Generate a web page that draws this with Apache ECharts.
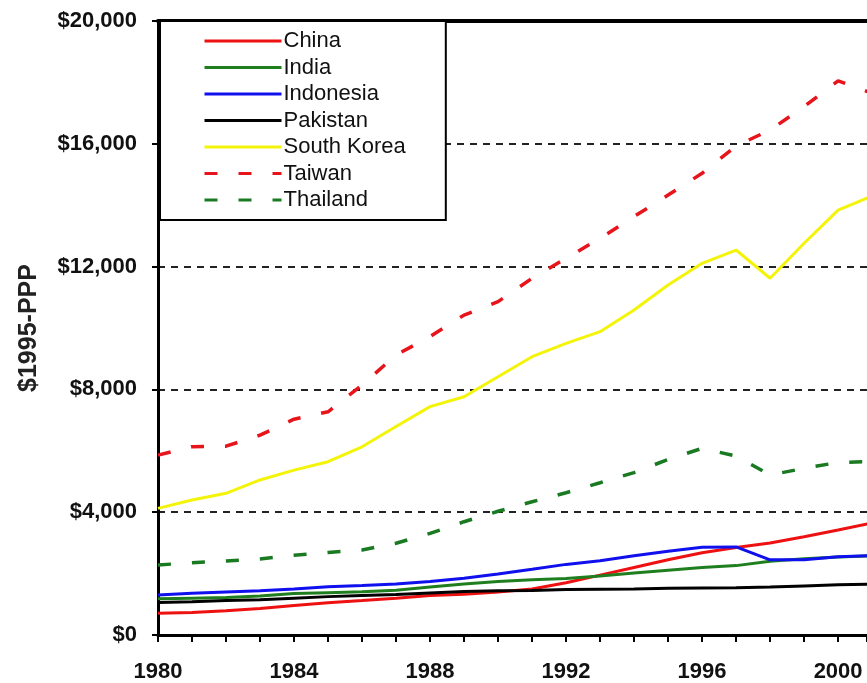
<!DOCTYPE html>
<html>
<head>
<meta charset="utf-8">
<script src="https://cdn.jsdelivr.net/npm/echarts@6/dist/echarts.min.js"></script>
<style>
html,body{margin:0;padding:0;background:#fff;}
#chart{width:867px;height:683px;}
</style>
</head>
<body>
<div id="chart"></div>
<script>
const years = [1980,1981,1982,1983,1984,1985,1986,1987,1988,1989,1990,1991,1992,1993,1994,1995,1996,1997,1998,1999,2000,2001];
const china      = [706,730,790,860,960,1050,1120,1200,1290,1330,1400,1500,1700,1950,2200,2450,2680,2850,3000,3200,3420,3650];
const india      = [1180,1200,1220,1270,1350,1380,1410,1460,1560,1660,1740,1800,1840,1920,2020,2110,2200,2260,2400,2480,2540,2580];
const indonesia  = [1300,1360,1400,1440,1500,1570,1610,1660,1740,1850,1990,2140,2300,2420,2580,2730,2860,2870,2450,2450,2550,2590];
const pakistan   = [1060,1080,1120,1150,1200,1250,1290,1320,1370,1420,1440,1450,1480,1490,1500,1520,1530,1540,1560,1600,1640,1660];
const southKorea = [4126,4400,4615,5050,5370,5645,6130,6790,7440,7760,8410,9065,9500,9880,10585,11400,12106,12540,11620,12760,13840,14300];
const taiwan     = [5860,6130,6150,6510,7030,7270,8140,9120,9720,10420,10860,11620,12270,12920,13630,14330,15040,15930,16450,17210,18050,17650];
const thailand   = [2280,2355,2410,2475,2600,2690,2770,2990,3310,3690,4030,4340,4635,4960,5290,5720,6080,5830,5210,5430,5620,5650];
const seriesNames = ['China','India','Indonesia','Pakistan','South Korea','Taiwan','Thailand'];
const yTicks = [0,4000,8000,12000,16000,20000];
const xRange = [1980, 2000.85];

const FONT = 'Liberation Sans, Arial, sans-serif';
function pts(vals){ return years.map((y,i)=>[y, vals[i]]); }
function solid(name, vals, color){
  return {name, type:'line', data:pts(vals), symbol:'none', smooth:false, clip:true,
    lineStyle:{color, width:3}, itemStyle:{color}, z:3};
}
function dashed(name, vals, color){
  return {name, type:'line', data:pts(vals), symbol:'none', smooth:false, clip:true,
    lineStyle:{color, width:3.5, type:[13,21]}, itemStyle:{color}, z:3};
}

const chart = echarts.init(document.getElementById('chart'), null, {renderer:'canvas'});
chart.setOption({
  animation:false,
  backgroundColor:'#fff',
  grid:{left:158, top:21, right:0, height:614, containLabel:false},
  legend:{
    orient:'vertical', left:160, top:21,
    padding:[9,40,9,43],
    itemWidth:77, itemHeight:10, itemGap:4.5,
    backgroundColor:'#fff', borderColor:'#000', borderWidth:2,
    itemStyle:{opacity:0},
    lineStyle:{width:3},
    textStyle:{fontFamily:FONT, fontSize:22, color:'#111', padding:[0,0,0,-3]},
    data:seriesNames
  },
  xAxis:[{
    type:'value', min:xRange[0], max:xRange[1], interval:4,
    axisLine:{show:true, onZero:false, lineStyle:{color:'#000', width:3}},
    axisTick:{show:true, inside:false, length:7, lineStyle:{color:'#000', width:2}},
    minorTick:{show:true, splitNumber:4, length:7, lineStyle:{color:'#000', width:2}},
    axisLabel:{fontFamily:FONT, fontWeight:'bold', fontSize:22, color:'#111', margin:26,
      formatter:v=>String(v), showMaxLabel:false},
    splitLine:{show:false}
  },{
    type:'value', position:'top', min:xRange[0], max:xRange[1], interval:4,
    axisLine:{show:true, onZero:false, lineStyle:{color:'#000', width:4}},
    axisTick:{show:false}, axisLabel:{show:false}, splitLine:{show:false}
  }],
  yAxis:{
    type:'value', min:yTicks[0], max:yTicks[yTicks.length-1], interval:4000,
    name:'$1995-PPP', nameLocation:'middle', nameGap:116, nameRotate:90,
    nameTextStyle:{fontFamily:FONT, fontWeight:'bold', fontSize:25, color:'#222'},
    axisLine:{show:true, lineStyle:{color:'#000', width:3}},
    axisTick:{show:true, inside:false, length:6, lineStyle:{color:'#000', width:2}},
    axisLabel:{fontFamily:FONT, fontWeight:'bold', fontSize:22, color:'#111', margin:21,
      formatter:v=>'$'+v.toLocaleString('en-US')},
    splitLine:{show:true, lineStyle:{color:'#222', width:2, type:[7,6]}}
  },
  series:[
    solid('China', china, '#ee1111'),
    solid('India', india, '#1f7f1f'),
    solid('Indonesia', indonesia, '#1010ee'),
    solid('Pakistan', pakistan, '#000000'),
    solid('South Korea', southKorea, '#f4f40a'),
    dashed('Taiwan', taiwan, '#e8141c'),
    dashed('Thailand', thailand, '#1a7a22')
  ]
});
</script>
</body>
</html>
